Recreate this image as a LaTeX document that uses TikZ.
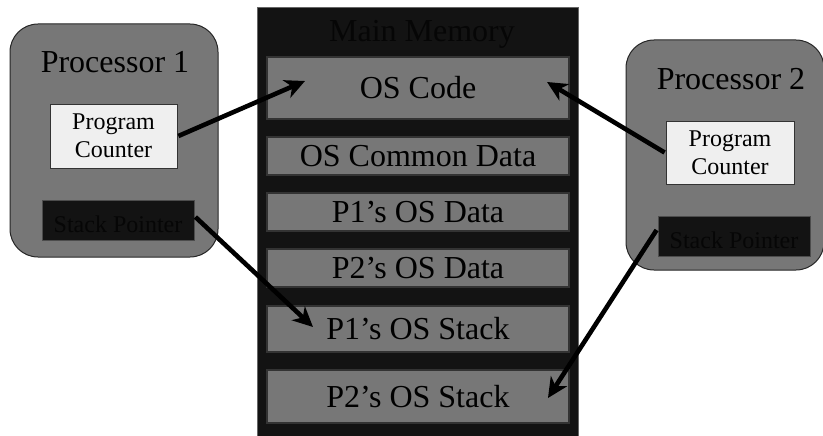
\documentclass[tikz,border=0pt]{standalone}
\usepackage{fontspec}
\setmainfont{Liberation Serif}
\usetikzlibrary{arrows.meta,calc}
\definecolor{procgray}{HTML}{777777}
\definecolor{memblack}{HTML}{131313}
\definecolor{slotgray}{HTML}{777777}
\definecolor{pcwhite}{HTML}{EFEFEF}
\definecolor{darktext}{HTML}{060606}
\tikzset{
  proc/.style={draw=black!85, line width=1pt, fill=procgray, rounded corners=28pt},
  slot/.style={draw=black!80, line width=1.2pt, fill=slotgray},
  pcbox/.style={draw=black!80, line width=0.8pt, fill=pcwhite},
  spbox/.style={draw=black!70, line width=0.8pt, fill=memblack},
  bigtxt/.style={font=\fontsize{32}{36}\selectfont},
  smalltxt/.style={font=\fontsize{24}{28}\selectfont, align=center},
  arr/.style={line width=4.6pt, -{Stealth[length=20pt,width=19pt,inset=6pt]}}
}
\begin{document}
\begin{tikzpicture}[x=1pt,y=-1pt]
\useasboundingbox (0,0) rectangle (823,436);
% main memory
\path[fill=memblack, draw=black!60, line width=1pt] (257,8) rectangle (578,440);
\node[bigtxt, text=darktext, anchor=base] (mmtitle) at (422,42) {Main Memory};
\node[slot, minimum width=302pt, minimum height=62pt, inner sep=0pt] (oscode) at (418,88) {};
\node[bigtxt] at (oscode.center) {OS Code};
\node[slot, minimum width=302pt, minimum height=38pt, inner sep=0pt] (common) at (418,156) {};
\node[bigtxt] at (common.center) {OS Common Data};
\node[slot, minimum width=302pt, minimum height=38pt, inner sep=0pt] (p1data) at (418,212) {};
\node[bigtxt] at (p1data.center) {P1’s OS Data};
\node[slot, minimum width=302pt, minimum height=38pt, inner sep=0pt] (p2data) at (418,268) {};
\node[bigtxt] at (p2data.center) {P2’s OS Data};
\node[slot, minimum width=302pt, minimum height=46pt, inner sep=0pt] (p1stack) at (418,329) {};
\node[bigtxt] at (p1stack.center) {P1’s OS Stack};
\node[slot, minimum width=302pt, minimum height=53pt, inner sep=0pt] (p2stack) at (418,396.5) {};
\node[bigtxt] at (p2stack.center) {P2’s OS Stack};
% processor 1
\draw[proc] (10,24) rectangle (218,257);
\node[bigtxt, anchor=base] (p1title) at (115,73) {Processor 1};
\node[pcbox, minimum width=127pt, minimum height=64pt, inner sep=0pt] (pc1) at (113.5,136) {};
\node[smalltxt] at (pc1.center) {Program\\Counter};
\node[spbox, minimum width=152pt, minimum height=40pt, inner sep=0pt] (sp1) at (118,220) {};
\node[smalltxt, text=darktext] at ($(sp1.center)+(0,4)$) {Stack Pointer};
% processor 2
\draw[proc] (626,40) rectangle (824,270);
\node[bigtxt, anchor=base] (p2title) at (731,90) {Processor 2};
\node[pcbox, minimum width=128pt, minimum height=63pt, inner sep=0pt] (pc2) at (730,152.5) {};
\node[smalltxt] at (pc2.center) {Program\\Counter};
\node[spbox, minimum width=152pt, minimum height=40pt, inner sep=0pt] (sp2) at (734,236) {};
\node[smalltxt, text=darktext] at ($(sp2.center)+(0,4)$) {Stack Pointer};
% arrows
\coordinate (t1) at (305,81);
\coordinate (t2) at (547,82);
\coordinate (t3) at (313,327);
\coordinate (t4) at (548,398);
\draw[arr] ($(pc1.east)+(1,0)$) -- (t1);
\draw[arr] ($(pc2.west)+(-1,0)$) -- (t2);
\draw[arr] ($(sp1.east)+(1,-3)$) -- (t3);
\draw[arr] ($(sp2.west)+(-1,-6)$) -- (t4);
\end{tikzpicture}
\end{document}
